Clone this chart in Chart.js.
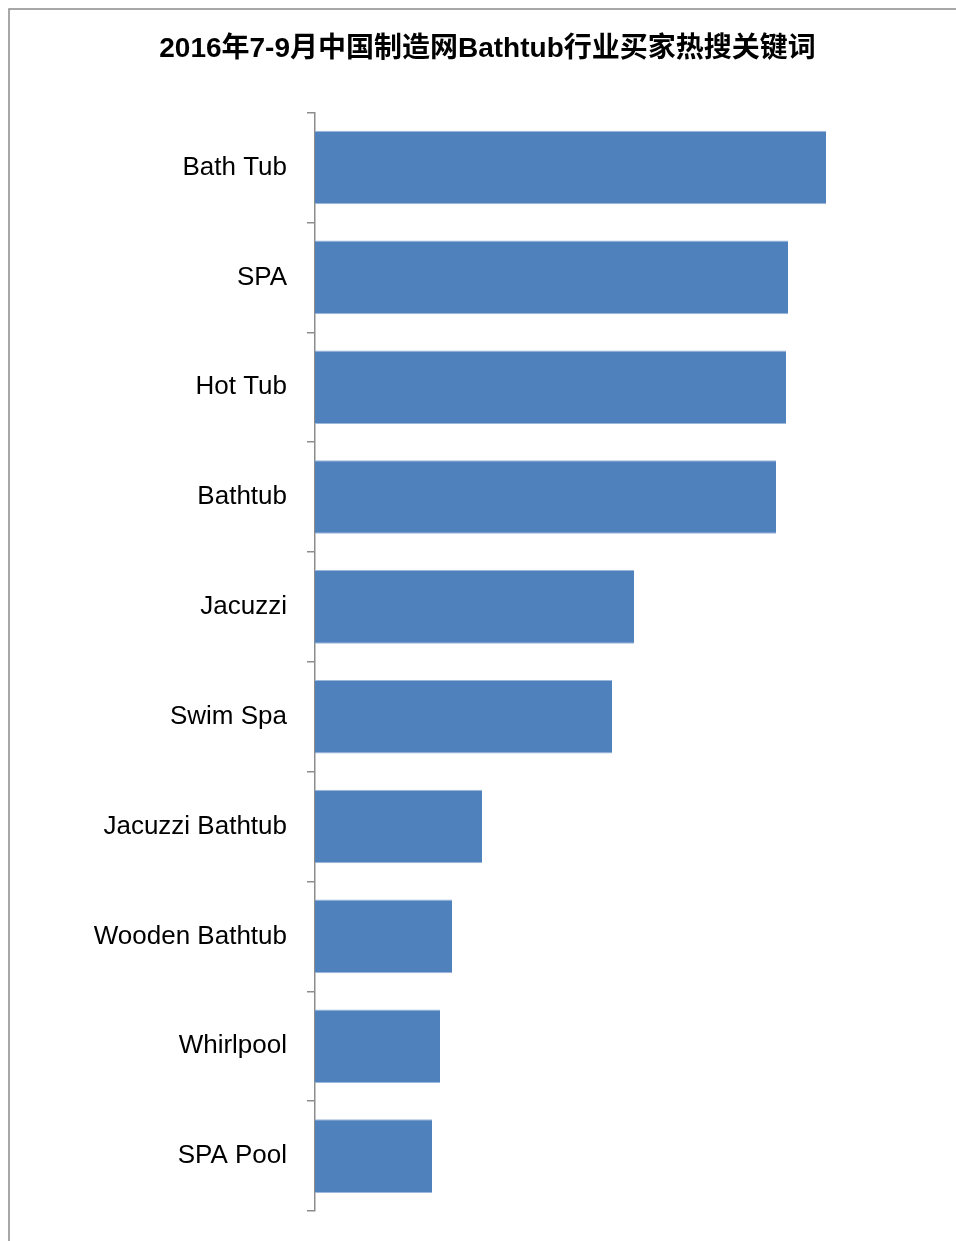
<!DOCTYPE html>
<html>
<head>
<meta charset="utf-8">
<script src="https://cdn.jsdelivr.net/npm/chart.js@4/dist/chart.umd.min.js"></script>
<style>
  html, body { margin: 0; padding: 0; background: #ffffff; }
  #wrap { position: relative; width: 956px; height: 1241px; }
</style>
</head>
<body>
<div id="wrap"><canvas id="c" width="956" height="1241"></canvas></div>
<script>
const titleText = '2016年7-9月中国制造网Bathtub行业买家热搜关键词';
const categories = ['Bath Tub', 'SPA', 'Hot Tub', 'Bathtub', 'Jacuzzi', 'Swim Spa', 'Jacuzzi Bathtub', 'Wooden Bathtub', 'Whirlpool', 'SPA Pool'];
const searchValues = [511, 473, 471, 461, 319, 297, 167, 137, 125, 117];
const xMin = 0;
const xMax = 641;

const frame = {
  id: 'frame',
  beforeDraw(chart) {
    const ctx = chart.ctx;
    ctx.save();
    ctx.fillStyle = '#ffffff';
    ctx.fillRect(0, 0, chart.width, chart.height);
    ctx.strokeStyle = '#8c8c8c';
    ctx.lineWidth = 1.5;
    ctx.strokeRect(9, 9, chart.width + 20, chart.height + 20);
    ctx.restore();
  }
};

new Chart(document.getElementById('c'), {
  type: 'bar',
  data: {
    labels: categories,
    datasets: [{
      data: searchValues,
      backgroundColor: '#4F81BD',
      borderColor: '#9DB7DA',
      borderWidth: { top: 1, bottom: 1, left: 0, right: 0 },
      borderSkipped: 'left',
      barPercentage: 0.67,
      categoryPercentage: 1.0
    }]
  },
  options: {
    indexAxis: 'y',
    responsive: false,
    animation: false,
    layout: { padding: { left: 19, right: 0, top: 0, bottom: 30 } },
    plugins: {
      legend: { display: false },
      tooltip: { enabled: false },
      title: {
        display: true,
        text: titleText,
        color: '#000000',
        font: { family: '"Liberation Sans", Arial, "Noto Sans CJK SC", sans-serif', size: 28, weight: 'bold' },
        padding: { top: 32, bottom: 47 }
      }
    },
    scales: {
      x: {
        display: false,
        min: xMin,
        max: xMax
      },
      y: {
        afterFit(scale) {
          scale.width = 296;
          scale.paddingTop = 0;
          scale.paddingBottom = 0;
        },
        grid: {
          offset: true,
          drawOnChartArea: false,
          drawTicks: true,
          tickLength: 8,
          color: '#8c8c8c',
          lineWidth: 1.5
        },
        border: { display: true, color: '#8c8c8c', width: 1.5 },
        ticks: {
          color: '#000000',
          padding: 20,
          font: { family: '"Liberation Sans", Arial, sans-serif', size: 26 }
        }
      }
    }
  },
  plugins: [frame]
});
</script>
</body>
</html>
